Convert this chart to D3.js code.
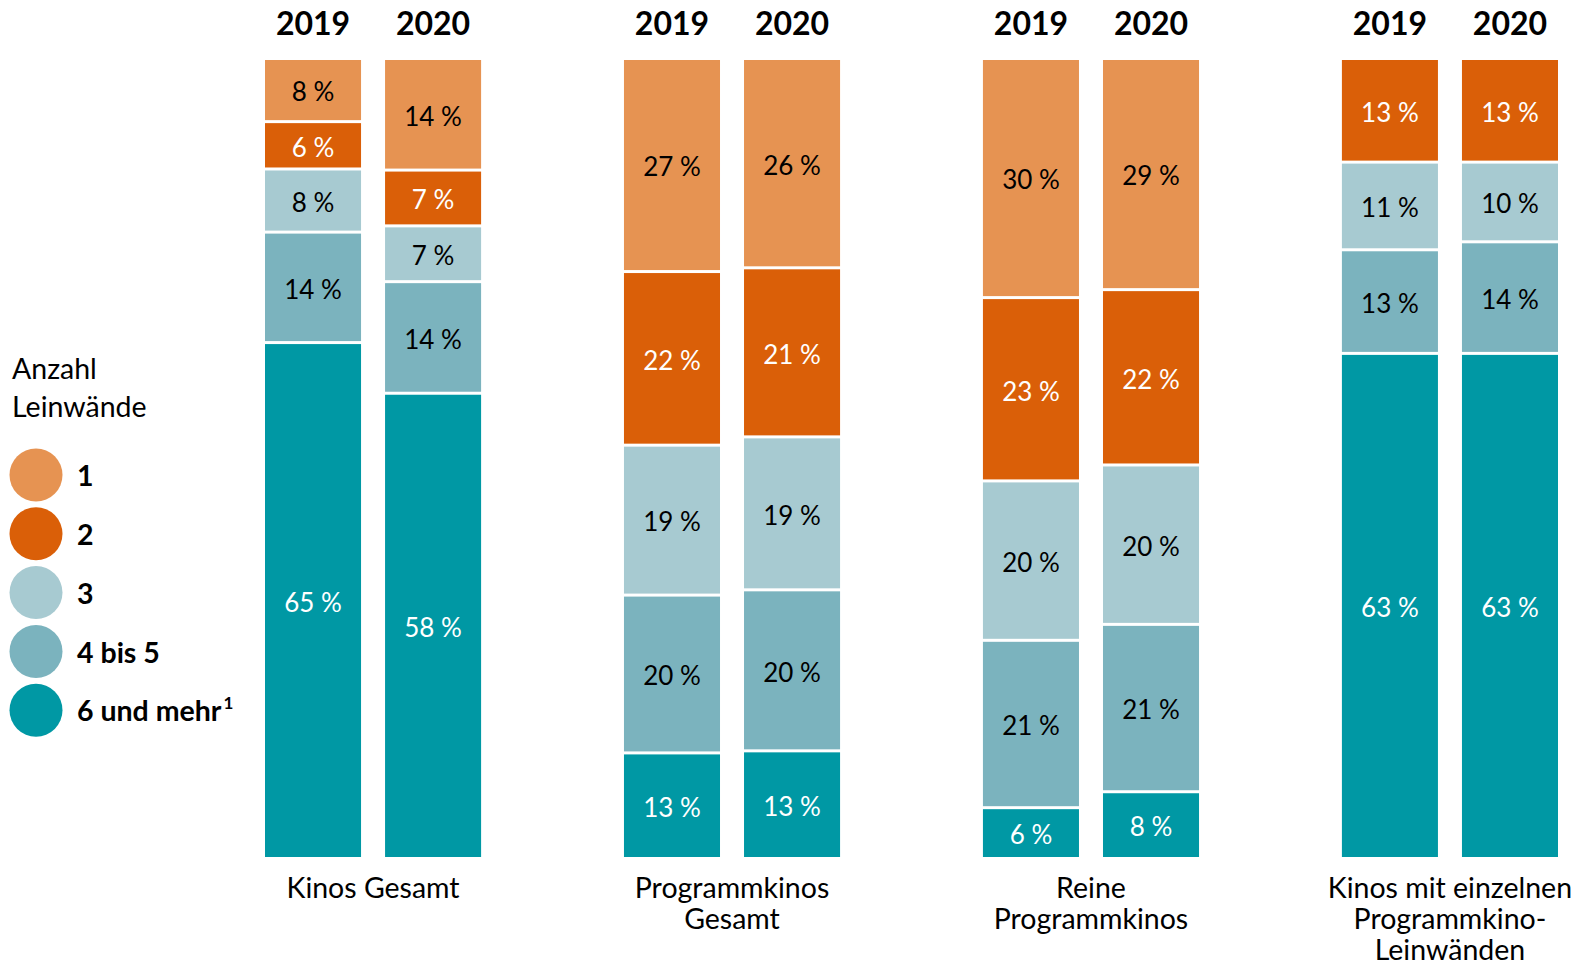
<!DOCTYPE html>
<html><head><meta charset="utf-8">
<script src="https://cdn.jsdelivr.net/npm/d3@7"></script>
<style>html,body{margin:0;padding:0;background:#fff;}svg{display:block;font-family:Lato,"Open Sans",sans-serif;}</style>
</head><body>
<svg id="c" width="1576" height="965"></svg>
<script>
const categories = ['Kinos Gesamt', 'Programmkinos Gesamt', 'Reine Programmkinos', 'Kinos mit einzelnen Programmkino-Leinwänden'];
const categoryLines = [['Kinos Gesamt'], ['Programmkinos', 'Gesamt'], ['Reine', 'Programmkinos'], ['Kinos mit einzelnen', 'Programmkino-', 'Leinwänden']];
const years = ['2019', '2020'];
const keys = ['1', '2', '3', '4 bis 5', '6 und mehr'];
// values per bar: [cat0-2019, cat0-2020, cat1-2019, cat1-2020, ...]
const screens1 = [8, 14, 27, 26, 30, 29, 0, 0];
const screens2 = [6, 7, 22, 21, 23, 22, 13, 13];
const screens3 = [8, 7, 19, 19, 20, 20, 11, 10];
const screens4to5 = [14, 14, 20, 20, 21, 21, 13, 14];
const screens6plus = [65, 58, 13, 13, 6, 8, 63, 63];
const colors = ['#E69352', '#DA5F08', '#A7CAD1', '#7BB3BE', '#0098A4'];
const textColors = ['#000', '#fff', '#000', '#000', '#fff'];

const seriesArr = [screens1, screens2, screens3, screens4to5, screens6plus];
const rows = [];
categories.forEach((c, ci) => years.forEach((y, yi) => {
  const r = {cat: c, year: y};
  keys.forEach((k, ki) => r[k] = seriesArr[ki][ci * 2 + yi]);
  rows.push(r);
}));

const svg = d3.select('#c');
const x0 = d3.scaleBand().domain(categories).range([265, 1558]).paddingInner(0.398).paddingOuter(0);
const x1 = d3.scaleBand().domain(years).range([0, x0.bandwidth()]).paddingInner(0.2).paddingOuter(0);
const y = d3.scaleLinear().domain([0, 1]).range([60, 857]);
const color = d3.scaleOrdinal().domain(keys).range(colors);
const tcolor = d3.scaleOrdinal().domain(keys).range(textColors);

const stack = d3.stack().keys(keys).order(d3.stackOrderNone).offset(d3.stackOffsetExpand);
const stacked = stack(rows);
const gap = 3;
const segTop = p => y(p[0]);
const segBot = p => y(p[1]) - (p[1] < 0.9999 ? gap : 0);

const layers = svg.append('g').selectAll('g').data(stacked).join('g').attr('fill', d => color(d.key));
layers.selectAll('rect').data(d => d.filter(p => p[1] - p[0] > 0)).join('rect')
  .attr('x', p => x0(p.data.cat) + x1(p.data.year))
  .attr('width', x1.bandwidth())
  .attr('y', p => segTop(p))
  .attr('height', p => segBot(p) - segTop(p));

const labels = svg.append('g').attr('text-anchor', 'middle').attr('font-size', 26);
stacked.forEach(layer => {
  layer.forEach(p => {
    const v = p.data[layer.key];
    if (!v) return;
    labels.append('text')
      .attr('x', x0(p.data.cat) + x1(p.data.year) + x1.bandwidth() / 2)
      .attr('y', (segTop(p) + segBot(p)) / 2 + 2)
      .attr('dy', '0.36em')
      .attr('fill', tcolor(layer.key))
      .text(v + ' %');
  });
});

// year headers
const yh = svg.append('g').attr('text-anchor', 'middle').attr('font-size', 32).attr('font-weight', 'bold');
categories.forEach(c => years.forEach(yr => {
  yh.append('text').attr('x', x0(c) + x1(yr) + x1.bandwidth() / 2).attr('y', 35).text(yr);
}));

// category labels
const cl = svg.append('g').attr('text-anchor', 'middle').attr('font-size', 28.5);
categories.forEach((c, i) => {
  categoryLines[i].forEach((line, li) => {
    cl.append('text').attr('x', x0(c) + x0.bandwidth() / 2).attr('y', 898 + li * 31).text(line);
  });
});

// legend
const lg = svg.append('g');
lg.append('text').attr('x', 12).attr('y', 379).attr('font-size', 28.5).text('Anzahl');
lg.append('text').attr('x', 12).attr('y', 417).attr('font-size', 28.5).text('Leinwände');
keys.forEach((k, i) => {
  const cy = 475 + i * 58.8;
  lg.append('circle').attr('cx', 36).attr('cy', cy).attr('r', 26.5).attr('fill', color(k));
  const t = lg.append('text').attr('x', 77).attr('y', cy + 1).attr('dy', '0.36em').attr('font-size', 28.5).attr('font-weight', 'bold').text(k);
  if (k === '6 und mehr') t.append('tspan').attr('font-size', 17).attr('dx', 2).attr('dy', '-0.75em').text('1');
});
</script>
</body></html>
